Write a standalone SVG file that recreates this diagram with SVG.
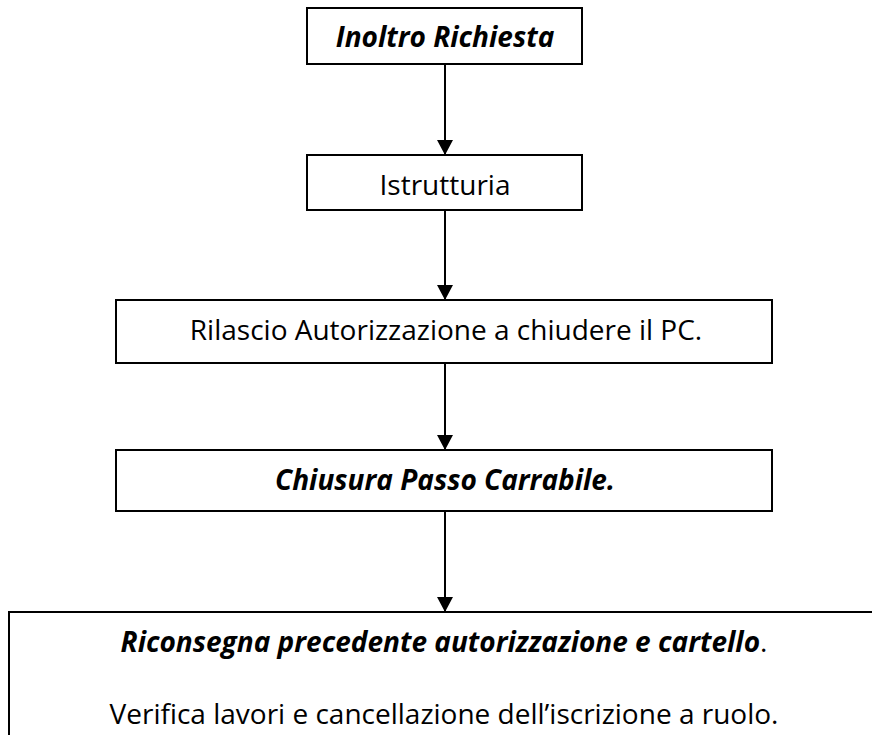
<svg xmlns="http://www.w3.org/2000/svg" width="872" height="735" viewBox="0 0 872 735">
<style>
.box{fill:#fff;stroke:#000;stroke-width:2}
.t{font-family:"Open Sans","Liberation Sans",sans-serif;font-size:28px;fill:#000;text-anchor:middle}
.bi{font-weight:bold;font-style:italic}
.c{stroke:#000;stroke-width:2;fill:none}
</style>
<defs>
<marker id="ah" markerWidth="15" markerHeight="16" refX="15" refY="8" orient="auto" markerUnits="userSpaceOnUse">
<path d="M0,0 L15,8 L0,16 Z" fill="#000"/>
</marker>
</defs>
<rect width="872" height="735" fill="#fff"/>
<g id="n1"><rect class="box" x="307" y="8" width="275" height="56"/><text class="t bi" x="445" y="47">Inoltro Richiesta</text></g>
<g id="n2"><rect class="box" x="307" y="155" width="275" height="55"/><text class="t" x="445" y="195">Istrutturia</text></g>
<g id="n3"><rect class="box" x="116" y="300" width="656" height="63"/><text class="t" x="446" y="340">Rilascio Autorizzazione a chiudere il PC.</text></g>
<g id="n4"><rect class="box" x="116" y="450" width="656" height="61"/><text class="t bi" x="445" y="490">Chiusura Passo Carrabile.</text></g>
<g id="n5"><path class="c" d="M9,740 L9,612 L875,612"/><text class="t" x="444" y="652"><tspan class="bi">Riconsegna precedente autorizzazione e cartello</tspan>.</text><text class="t" x="444" y="724">Verifica lavori e cancellazione dell’iscrizione a ruolo.</text></g>
<g id="connectors">
<line class="c" x1="445" y1="64" x2="445" y2="155" marker-end="url(#ah)"/>
<line class="c" x1="445" y1="210" x2="445" y2="300" marker-end="url(#ah)"/>
<line class="c" x1="445" y1="363" x2="445" y2="450" marker-end="url(#ah)"/>
<line class="c" x1="445" y1="511" x2="445" y2="612" marker-end="url(#ah)"/>
</g>
</svg>
